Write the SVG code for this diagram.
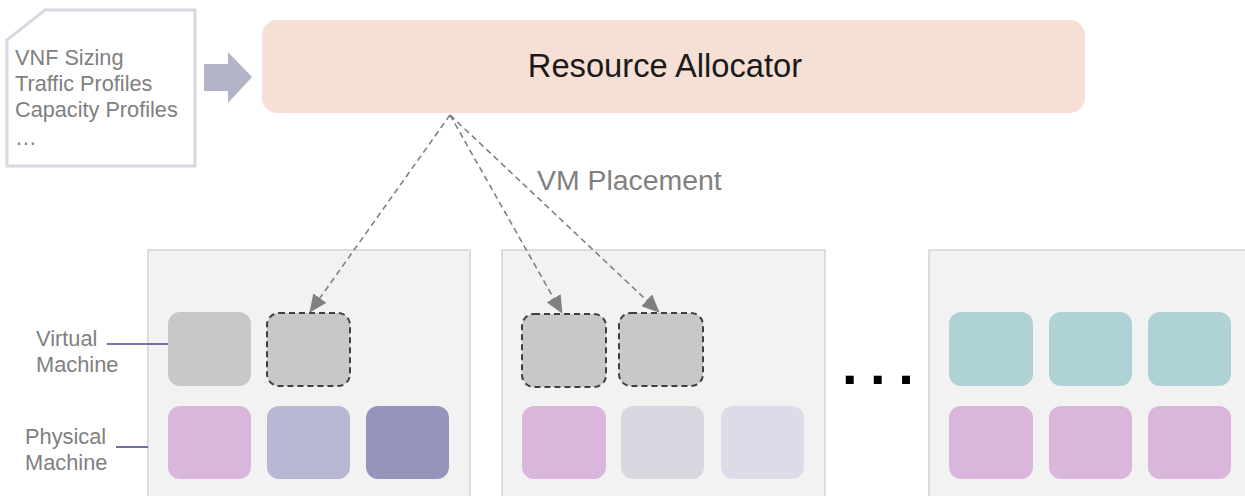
<svg xmlns="http://www.w3.org/2000/svg" width="1245" height="496" viewBox="0 0 1245 496">
<defs>
<marker id="ah" markerUnits="userSpaceOnUse" markerWidth="18" markerHeight="16" viewBox="0 0 18 16" refX="17" refY="8" orient="auto">
<path d="M0,0 L18,8 L0,16 Z" fill="#808080"/>
</marker>
</defs>
<style>
.t{font-family:"Liberation Sans",Arial,sans-serif;fill:#808080}
.panel{fill:#f2f2f2;stroke:#d4d4d4;stroke-width:1.5}
.box{stroke:none}
.dash{stroke:#404040;stroke-width:2;stroke-dasharray:6,4}
.conn{fill:none;stroke:#808080;stroke-width:1.6;stroke-dasharray:6,4}
.lead{stroke:#4a4a8a;stroke-width:1.6}
</style>
<rect width="1245" height="496" fill="#ffffff"/>

<g id="inputs">
<path d="M7,40 L45,10 L195,10 L195,166 L7,166 Z" fill="#ffffff" stroke="#d8d8e2" stroke-width="3"/>
<text class="t" font-size="21.7" x="15" y="65">VNF Sizing</text>
<text class="t" font-size="21.7" x="15" y="91">Traffic Profiles</text>
<text class="t" font-size="21.7" x="15" y="117">Capacity Profiles</text>
<text class="t" font-size="21.7" x="15" y="145">…</text>
</g>

<g id="input-arrow">
<path d="M204,64 L228,64 L228,52 L252,77 L228,103 L228,91 L204,91 Z" fill="#b4b4c8"/>
</g>

<g id="resource-allocator">
<rect x="262" y="20" width="823" height="93" rx="15" fill="#f6e0d5"/>
<text font-family="'Liberation Sans',Arial,sans-serif" font-size="32.7" fill="#1a1a1a" x="665" y="77" text-anchor="middle">Resource Allocator</text>
</g>

<g id="vm-placement-label">
<text class="t" font-size="28.4" x="537" y="190">VM Placement</text>
</g>

<g id="server1">
<rect class="panel" x="148" y="250" width="322" height="260"/>
<rect class="box" x="168" y="312" width="83" height="74" rx="12" fill="#c8c8c8"/>
<rect class="box dash" x="267" y="313" width="83" height="73" rx="12" fill="#c8c8c8"/>
<rect class="box" x="168" y="406" width="83" height="73" rx="12" fill="#dab5dc"/>
<rect class="box" x="267" y="406" width="83" height="73" rx="12" fill="#b8b8d4"/>
<rect class="box" x="366" y="406" width="83" height="73" rx="12" fill="#9494bd"/>
</g>

<g id="server2">
<rect class="panel" x="502" y="250" width="323" height="260"/>
<rect class="box dash" x="522" y="314" width="84" height="73" rx="12" fill="#c8c8c8"/>
<rect class="box dash" x="619" y="313" width="84" height="73" rx="12" fill="#c8c8c8"/>
<rect class="box" x="522" y="406" width="84" height="73" rx="12" fill="#dab5dc"/>
<rect class="box" x="621" y="406" width="83" height="73" rx="12" fill="#d7d7e0"/>
<rect class="box" x="721" y="406" width="83" height="73" rx="12" fill="#dcdce8"/>
</g>

<g id="ellipsis">
<text font-family="'Liberation Sans',Arial,sans-serif" font-weight="bold" font-size="56" fill="#000000" x="842" y="384" letter-spacing="-1.5">. . .</text>
</g>

<g id="server3">
<rect class="panel" x="929" y="250" width="330" height="260"/>
<rect class="box" x="949" y="312" width="84" height="74" rx="12" fill="#aed2d6"/>
<rect class="box" x="1049" y="312" width="83" height="74" rx="12" fill="#aed2d6"/>
<rect class="box" x="1148" y="312" width="83" height="74" rx="12" fill="#aed2d6"/>
<rect class="box" x="949" y="406" width="84" height="73" rx="12" fill="#dab5dc"/>
<rect class="box" x="1049" y="406" width="83" height="73" rx="12" fill="#dab5dc"/>
<rect class="box" x="1148" y="406" width="83" height="73" rx="12" fill="#dab5dc"/>
</g>

<g id="labels">
<text class="t" font-size="21.8" x="36" y="346">Virtual</text>
<text class="t" font-size="21.8" x="36" y="372">Machine</text>
<text class="t" font-size="21.8" x="25" y="444">Physical</text>
<text class="t" font-size="21.8" x="25" y="470">Machine</text>
</g>

<g id="connectors">
<line class="lead" x1="107" y1="344" x2="168" y2="344"/>
<line class="lead" x1="116" y1="447" x2="148" y2="447"/>
<line class="conn" x1="450" y1="115" x2="310" y2="312" marker-end="url(#ah)"/>
<line class="conn" x1="450" y1="115" x2="562" y2="313" marker-end="url(#ah)"/>
<line class="conn" x1="450" y1="115" x2="659" y2="312" marker-end="url(#ah)"/>
</g>
</svg>
